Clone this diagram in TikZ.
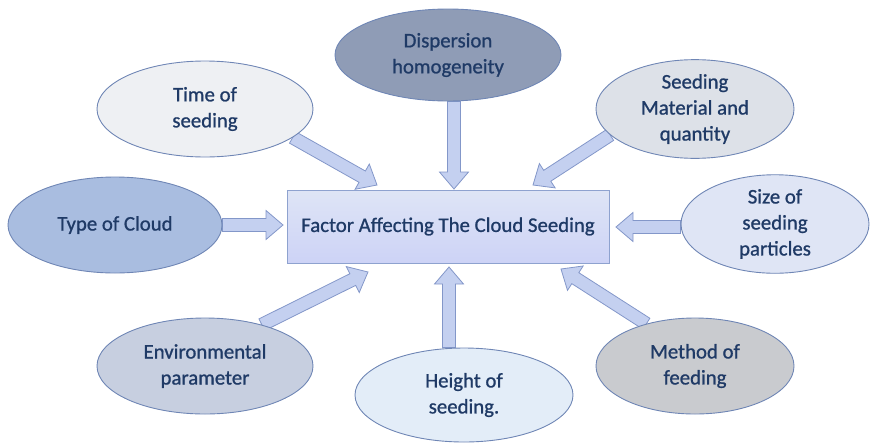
\documentclass[tikz,border=0pt]{standalone}
\usepackage{fontspec}
\setmainfont{Carlito}[FakeBold=0.9,AutoFakeBold=0.9]
\usetikzlibrary{shapes.geometric,calc}
\definecolor{txt}{HTML}{1F3A66}
\definecolor{ebord}{HTML}{6F86B5}
\definecolor{afill}{HTML}{C4D0F0}
\definecolor{abord}{HTML}{8397C9}
\definecolor{cfill}{HTML}{D6DEF3}
\definecolor{cbord}{HTML}{8EA2CF}
\definecolor{fdisp}{HTML}{8F9CB6}
\definecolor{ftime}{HTML}{EEF0F3}
\definecolor{fmat}{HTML}{DDE1E8}
\definecolor{ftype}{HTML}{A9BDE0}
\definecolor{fsize}{HTML}{DFE5F5}
\definecolor{fenv}{HTML}{C7CFE0}
\definecolor{fheight}{HTML}{E3EDF8}
\definecolor{fmeth}{HTML}{C9CBCF}
\pgfdeclarelayer{arrowlayer}
\pgfsetlayers{arrowlayer,main}
\tikzset{
  labelfont/.style={font=\fontsize{20.8}{26}\selectfont\bfseries},
  factor/.style={ellipse, draw=ebord, line width=0.9pt, inner sep=0pt,
    align=center, text=txt, labelfont},
  centrebox/.style={rectangle, draw=cbord, line width=0.9pt,
    top color=cfill!80!white, bottom color=cfill!90!blue!80!white,
    minimum width=322pt, minimum height=73pt, text=txt, labelfont},
  blockarr/.style={draw=abord, line width=0.8pt, fill=afill, line join=miter}
}
% block arrow from #1 to the tip #2
\newcommand\blockarrow[2]{%
  \coordinate (ba-base) at ($(#2)!17pt!(#1)$);
  \draw[blockarr]
    ($(#1)!6.5pt!90:(#2)$) -- ($(ba-base)!6.5pt!-90:(#1)$)
    -- ($(ba-base)!14.5pt!-90:(#1)$) -- (#2)
    -- ($(ba-base)!14.5pt!90:(#1)$) -- ($(ba-base)!6.5pt!90:(#1)$)
    -- ($(#1)!6.5pt!-90:(#2)$) -- cycle;
}
\begin{document}
\begin{tikzpicture}[x=1pt,y=-1pt]
\useasboundingbox (0,0) rectangle (872,442);

% central box
\node[centrebox] (core) at (448,226.5) {Factor Affecting The Cloud Seeding};

% surrounding factors
\node[factor, fill=fdisp, minimum width=226pt, minimum height=92pt] (disp) at (448,55) {Dispersion\\homogeneity};
\node[factor, fill=ftime, minimum width=216pt, minimum height=96pt] (time) at (205,109) {Time of\\seeding};
\node[factor, fill=fmat, minimum width=198pt, minimum height=96pt] (mat) at (695,109) {Seeding\\Material and\\quantity};
\node[factor, fill=ftype, minimum width=214pt, minimum height=96pt] (type) at (115,225) {Type of Cloud};
\node[factor, fill=fsize, minimum width=188pt, minimum height=94pt] (size) at (775,224) {Size of\\seeding\\particles};
\node[factor, fill=fenv, minimum width=216pt, minimum height=96pt] (env) at (205,366) {Environmental\\parameter};
\node[factor, fill=fheight, minimum width=218pt, minimum height=94pt] (height) at (464,395) {Height of\\seeding.};
\node[factor, fill=fmeth, minimum width=198pt, minimum height=96pt] (meth) at (695,366) {Method of\\feeding};

% arrow tips next to the central box
\coordinate (t-time) at (377,185);
\coordinate (t-disp) at (454,189);
\coordinate (t-mat) at (533,185);
\coordinate (t-type) at (283,225);
\coordinate (t-size) at (616,227);
\coordinate (t-env) at (368,272);
\coordinate (t-height) at (449,267);
\coordinate (t-meth) at (561,269);

\begin{pgfonlayer}{arrowlayer}
  \blockarrow{time.-18}{t-time}
  \blockarrow{t-disp |- disp.south}{t-disp}
  \blockarrow{mat.-163}{t-mat}
  \blockarrow{t-type -| type.east}{t-type}
  \blockarrow{t-size -| size.west}{t-size}
  \blockarrow{env.36}{t-env}
  \blockarrow{t-height |- height.north}{t-height}
  \blockarrow{meth.139}{t-meth}
\end{pgfonlayer}
\end{tikzpicture}
\end{document}
